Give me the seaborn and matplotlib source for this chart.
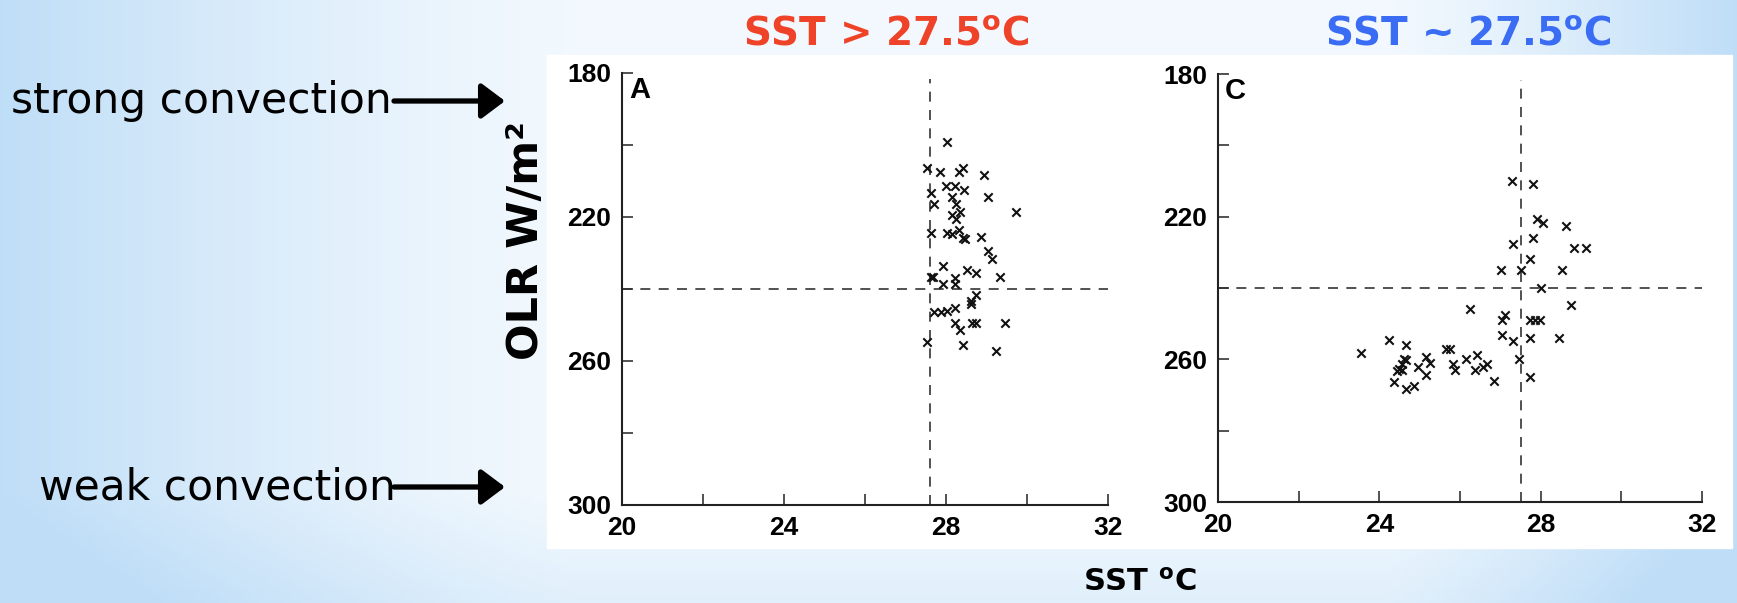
import numpy as np
import pandas as pd
import seaborn as sns
import matplotlib.pyplot as plt
from matplotlib.patches import Rectangle

# panel A: SST > 27.5
sst_a = [28.02, 27.52, 27.84, 28.33, 28.43, 28.95, 28.00, 28.22, 28.45, 27.62,
         27.71, 28.14, 29.03, 28.24, 28.35, 28.16, 28.24, 29.74, 27.64, 28.03,
         28.14, 28.33, 28.43, 28.46, 28.86, 29.03, 29.14, 27.93, 28.52, 28.73,
         27.62, 27.69, 28.22, 27.93, 28.22, 29.33, 28.73, 28.62, 28.62, 27.71,
         27.88, 28.03, 28.22, 28.22, 28.35, 28.64, 28.73, 29.45, 27.52, 28.43,
         29.24]
olr_a = [199.3, 206.3, 207.5, 207.5, 206.3, 208.4, 211.4, 211.4, 212.6, 213.4,
         216.5, 214.4, 214.4, 216.5, 218.6, 219.5, 220.5, 218.5, 224.4, 224.4,
         224.8, 223.7, 225.8, 226.2, 225.6, 229.5, 231.6, 233.5, 234.6, 235.5,
         236.6, 236.6, 236.9, 238.6, 238.5, 236.6, 241.6, 244.1, 243.4, 246.5,
         246.5, 246.2, 245.3, 249.5, 251.5, 249.5, 249.5, 249.5, 254.6, 255.5,
         257.3]

# panel C: SST ~ 27.5
sst_c = [27.29, 27.80, 27.92, 28.05, 28.62, 27.82, 27.31, 28.82, 29.12, 27.73,
         27.02, 27.50, 28.52, 28.02, 28.75, 26.25, 27.12, 27.04, 27.73, 27.87,
         27.99, 27.04, 27.32, 27.73, 28.45, 24.23, 24.66, 23.55, 25.66, 25.76,
         24.61, 24.66, 24.55, 24.49, 24.56, 24.44, 25.15, 25.25, 24.96, 25.15,
         24.36, 24.65, 24.86, 25.83, 25.88, 26.14, 26.43, 26.66, 26.56, 26.37,
         26.85, 27.46, 27.73]
olr_c = [209.9, 210.8, 220.6, 221.7, 222.6, 225.9, 227.7, 228.7, 228.7, 231.9,
         234.9, 234.9, 234.9, 240.1, 244.7, 246.0, 247.7, 249.1, 249.1, 249.1,
         249.1, 253.1, 255.0, 254.0, 254.0, 254.5, 256.1, 258.2, 257.2, 257.2,
         259.8, 260.3, 261.2, 262.6, 263.1, 263.3, 259.3, 261.0, 262.1, 264.3,
         266.3, 268.2, 267.4, 261.2, 263.1, 259.8, 258.9, 261.2, 262.1, 263.1,
         266.1, 259.8, 264.9]

panel_letters = ["A", "C"]
titles = ["SST > 27.5$^{\\mathbf{o}}$C", "SST ~ 27.5$^{\\mathbf{o}}$C"]
title_colors = ["#EE4329", "#3A6CF4"]
sst_threshold = [27.6, 27.5]
olr_threshold = [240, 240]
x_ticks = [20, 22, 24, 26, 28, 30, 32]
x_ticklabels = ["20", "", "24", "", "28", "", "32"]
y_ticks = [180, 200, 220, 240, 260, 280, 300]
y_ticklabels = ["180", "", "220", "", "260", "", "300"]

sns.set_style("ticks")
plt.rcParams["font.family"] = ["DejaVu Sans"]
plt.rcParams["mathtext.fontset"] = "dejavusans"
plt.rcParams["text.color"] = "black"

W, H = 1737, 603
fig = plt.figure(figsize=(W / 100, H / 100), dpi=100)

# slide background: light blue at the edges, almost white in the middle
bg = fig.add_axes([0, 0, 1, 1])
xx, yy = np.meshgrid(np.linspace(0, 1, 400), np.linspace(0, 1, 140))
w = np.clip(1 - xx / 0.33, 0, 1) ** 1.3 + np.clip((xx - 0.80) / 0.2, 0, 1) ** 1.2
w = w + 0.35 * np.clip((yy - 0.82) / 0.18, 0, 1)
w = np.clip(w, 0, 1)[..., None]
blue = np.array([0.75, 0.87, 0.97])
white = np.array([0.95, 0.975, 0.995])
bg.imshow(white * (1 - w) + blue * w, aspect="auto", extent=[0, 1, 0, 1], origin="upper")
bg.add_patch(Rectangle((547 / W, 1 - 548 / H), 1185 / W, 493 / H, color="white", zorder=2))
bg.set_xlim(0, 1)
bg.set_ylim(0, 1)
bg.axis("off")

axes_px = [(622, 73, 486, 432), (1218, 74, 484, 428)]
title_x = [886, 1468]
datasets = [pd.DataFrame({"sst": sst_a, "olr": olr_a}),
            pd.DataFrame({"sst": sst_c, "olr": olr_c})]

for i, (left, top, wd, ht) in enumerate(axes_px):
    ax = fig.add_axes([left / W, 1 - (top + ht) / H, wd / W, ht / H])
    ax.patch.set_alpha(0)
    sns.scatterplot(data=datasets[i], x="sst", y="olr", marker="x", color="#111111",
                    s=36, linewidth=1.5, ax=ax, zorder=3)
    ax.axhline(olr_threshold[i], color="#333333", lw=1.2, ls=(0, (6, 5)), zorder=2)
    ax.axvline(sst_threshold[i], ymax=0.985, color="#333333", lw=1.2, ls=(0, (6, 5)), zorder=2)
    ax.set_xlim(20, 32)
    ax.set_ylim(300, 180)
    ax.set_xticks(x_ticks)
    ax.set_xticklabels(x_ticklabels)
    ax.set_yticks(y_ticks)
    ax.set_yticklabels(y_ticklabels)
    ax.tick_params(direction="in", length=8, width=1.2, color="#333333", pad=8,
                   labelcolor="black")
    for lab in ax.get_xticklabels() + ax.get_yticklabels():
        lab.set_fontfamily("Liberation Sans")
        lab.set_fontweight("bold")
        lab.set_fontsize(19)
    sns.despine(ax=ax)
    for sp in ["left", "bottom"]:
        ax.spines[sp].set_linewidth(1.5)
        ax.spines[sp].set_color("#222222")
    ax.set_xlabel("")
    ax.set_ylabel("")
    ax.text(0.014, 0.992, panel_letters[i], transform=ax.transAxes, ha="left", va="top",
            fontsize=21, fontweight="bold", family="Liberation Sans")
    fig.text(title_x[i] / W, 1 - 35 / H, titles[i], color=title_colors[i],
             ha="center", va="center", fontsize=28, fontweight="bold")

fig.text(526 / W, 1 - 241 / H, "OLR W/m²", rotation=90, ha="center", va="center",
         fontsize=31, fontweight="bold")
fig.text(1140 / W, 1 - 582 / H, "SST $^{\\mathbf{o}}$C", ha="center", va="center",
         fontsize=22, fontweight="bold")

# convection labels with arrows pointing at the OLR axis
for label, x0, y0 in [("strong convection", 11, 101), ("weak convection", 39, 487)]:
    fig.text(x0 / W, 1 - y0 / H, label, ha="left", va="center", fontsize=30.5)
    bg.annotate("", xy=(505 / W, 1 - y0 / H), xytext=(394 / W, 1 - y0 / H),
                xycoords="figure fraction", textcoords="figure fraction",
                arrowprops=dict(arrowstyle="-|>,head_length=0.6,head_width=0.45",
                                mutation_scale=24, lw=3.8, color="black",
                                shrinkA=0, shrinkB=0))

fig.savefig("out.png", dpi=100)
